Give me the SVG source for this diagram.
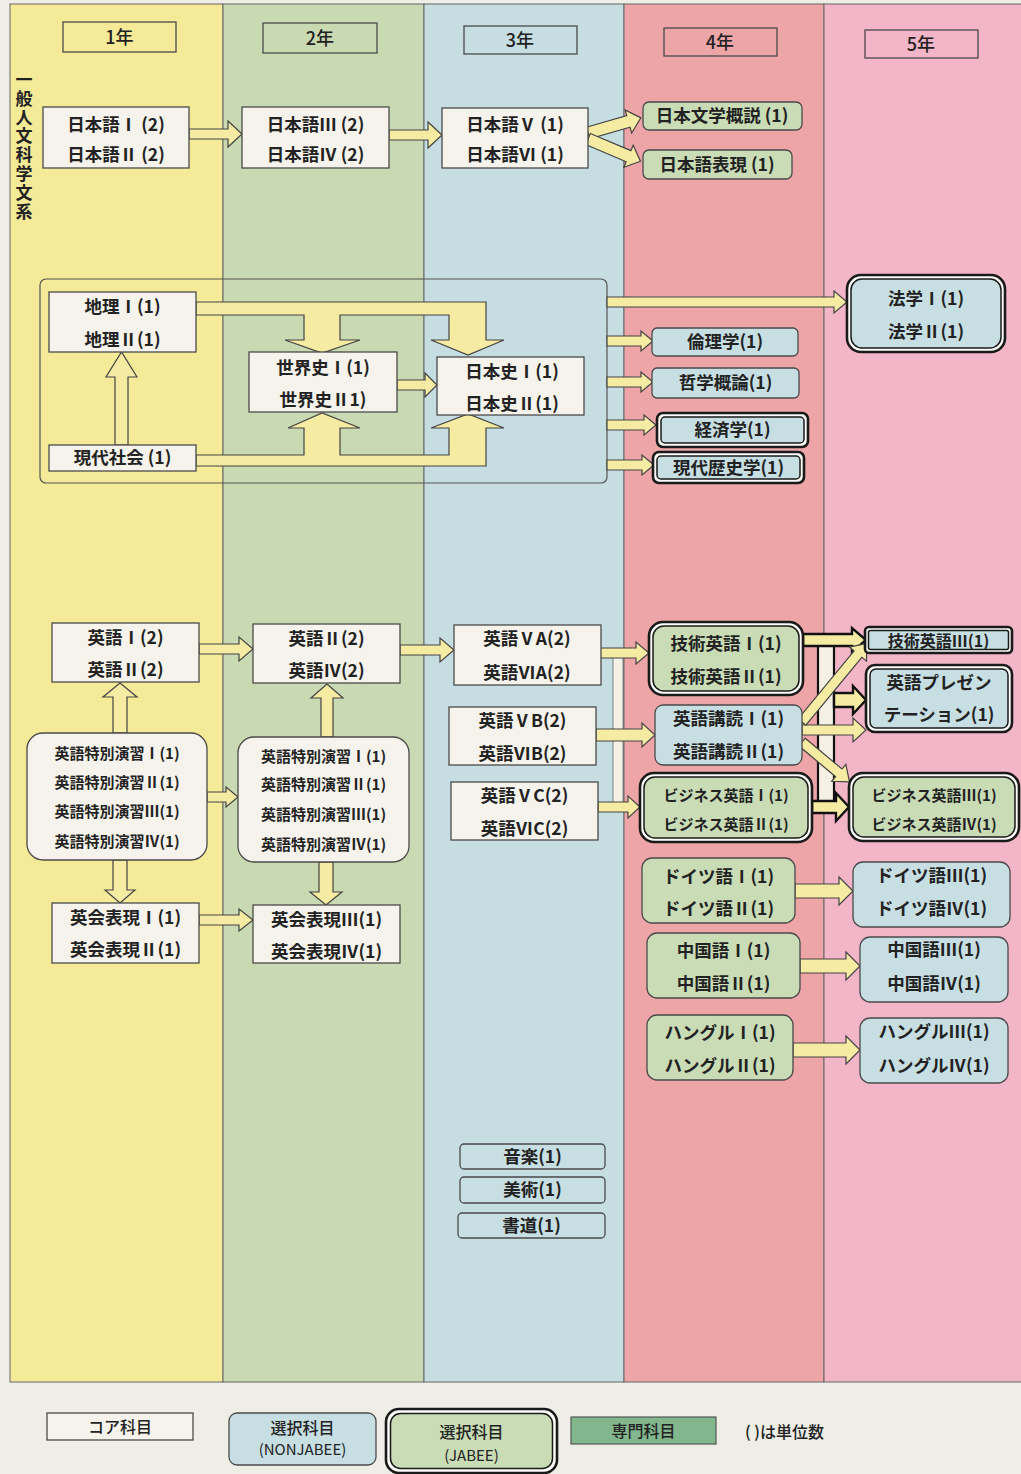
<svg xmlns="http://www.w3.org/2000/svg" width="1021" height="1474" viewBox="0 0 1021 1474">
<style>
text{font-family:"Noto Sans CJK JP","Noto Sans",sans-serif;font-weight:600;font-size:17.5px;fill:#222;text-anchor:middle}
.sm{font-size:15px}
.core{fill:#f5f3ec;stroke:#4a4a4a;stroke-width:1.3}
.sel{fill:#c7dee3;stroke:#4a4a4a;stroke-width:1.3}
.spec{fill:#c9dcb6;stroke:#4a4a4a;stroke-width:1.3}
.hdr{fill:none;stroke:#4a4a4a;stroke-width:1.3}
.dbo{fill:#fbfbf8;stroke:#1a1a1a;stroke-width:2.6}
.dbi{stroke:#1a1a1a;stroke-width:1.5}
.arr{fill:#f6eba3;stroke:#444;stroke-width:1.2;stroke-linejoin:miter}
.arrd{fill:#f6eba3;stroke:#111;stroke-width:2.4;stroke-linejoin:miter}
.col{stroke:#666;stroke-width:1}
</style>
<rect x="0" y="0" width="1021" height="1474" fill="#eeede6"/>
<g id="columns">
<rect class="col" x="10" y="4" width="213" height="1378" fill="#f4ea98"/>
<rect class="col" x="223" y="4" width="201" height="1378" fill="#c9d9b1"/>
<rect class="col" x="424" y="4" width="200" height="1378" fill="#c6dde1"/>
<rect class="col" x="624" y="4" width="200" height="1378" fill="#eea5a7"/>
<rect class="col" x="824" y="4" width="210" height="1378" fill="#f3b5c8"/>
</g>
<g id="headers">
<rect class="hdr" x="63" y="22" width="113" height="30"/><text x="119.5" y="44" style="font-size:18px;font-weight:500">1年</text>
<rect class="hdr" x="263" y="23" width="114" height="30"/><text x="320" y="45" style="font-size:18px;font-weight:500">2年</text>
<rect class="hdr" x="464" y="26" width="113" height="28"/><text x="520" y="47" style="font-size:18px;font-weight:500">3年</text>
<rect class="hdr" x="664" y="28" width="113" height="28"/><text x="720" y="49" style="font-size:18px;font-weight:500">4年</text>
<rect class="hdr" x="865" y="30" width="113" height="28"/><text x="921" y="51" style="font-size:18px;font-weight:500">5年</text>
</g>
<text id="category" x="24" y="71" style="font-size:17px;writing-mode:vertical-rl;text-anchor:start;letter-spacing:1.8px">一般人文科学文系</text>
<rect id="humanities-group" x="40" y="279" width="567" height="204" rx="6" fill="none" stroke="#555" stroke-width="1.2"/>

<g id="connectors">
<polygon class="arr" points="189,129 228,129 228,121 242,134 228,147 228,139 189,139"/>
<polygon class="arr" points="389,130 428,130 428,122 442,135 428,148 428,140 389,140"/>
<g transform="translate(588,133) rotate(-16)"><polygon class="arr" points="0,-6 42,-6 42,-12 55,0 42,12 42,6 0,6"/></g>
<g transform="translate(588,139) rotate(23)"><polygon class="arr" points="0,-6 44,-6 44,-12 57,0 44,12 44,6 0,6"/></g>
<polygon class="arr" points="196,302 486,302 486,340 504,340 468,355 431,340 449,340 449,315 340,315 340,340 360,340 322,353 285,340 304,340 304,315 196,315"/>
<polygon class="arr" points="196,455 304,455 304,428 288,428 322,413 360,428 340,428 340,455 449,455 449,428 431,428 468,414 504,428 486,428 486,466 196,466"/>
<polygon class="arr" points="115,445 115,377 106,377 121.5,352 137,377 128,377 128,445"/>
<polygon class="arr" points="397,380 425,380 425,373 437,385 425,397 425,390 397,390"/>
<polygon class="arr" points="607,297 834,297 834,291 847,302 834,313 834,307 607,307"/>
<polygon class="arr" points="607,336 641,336 641,331 653,341 641,351 641,346 607,346"/>
<polygon class="arr" points="607,377 641,377 641,372 653,382 641,392 641,387 607,387"/>
<polygon class="arr" points="607,420 644,420 644,415 656,425 644,435 644,430 607,430"/>
<polygon class="arr" points="607,460 642,460 642,455 654,465 642,475 642,470 607,470"/>
<polygon class="arr" points="199,644 239,644 239,637 253,649 239,661 239,654 199,654"/>
<polygon class="arr" points="400,645 440,645 440,638 454,650 440,662 440,655 400,655"/>
<polygon class="arr" points="113,733 113,697 103,697 120,683 137,697 127,697 127,733"/>
<polygon class="arr" points="207,792 226,792 226,787 238,797 226,807 226,802 207,802"/>
<polygon class="arr" points="113,860 113,890 105,890 120,903 135,890 127,890 127,860"/>
<polygon class="arr" points="199,915 239,915 239,909 253,920 239,931 239,925 199,925"/>
<polygon class="arr" points="321,737 321,698 311,698 327,684 343,698 333,698 333,737"/>
<polygon class="arr" points="319,862 319,892 310,892 326,905 342,892 333,892 333,862"/>
<rect x="613" y="653" width="10" height="154" fill="#f5f1e6" stroke="#666" stroke-width="0.8"/>
<polygon class="arr" points="600,648 636,648 636,642 649,653 636,664 636,658 600,658"/>
<polygon class="arr" points="596,729 642,729 642,723 655,735 642,747 642,741 596,741"/>
<polygon class="arr" points="598,802 628,802 628,796 640,807 628,818 628,812 598,812"/>
<rect x="818" y="640" width="16" height="168" fill="#f4f0e4" stroke="#111" stroke-width="2.2"/>
<polygon class="arrd" points="803,634 852,634 852,628 866,640 852,652 852,646 803,646"/>
<polygon class="arrd" points="834,693 853,693 853,686 866,700 853,714 853,707 834,707"/>
<polygon class="arrd" points="812,801 836,801 836,793 849,807 836,821 836,813 812,813"/>
<polygon class="arr" points="802,725 853,725 853,718 866,730 853,742 853,735 802,735"/>
<g transform="translate(802,722) rotate(-50.5)"><polygon class="arr" points="0,-5 88,-5 88,-11 102,0 88,11 88,5 0,5"/></g>
<g transform="translate(802,742) rotate(40)"><polygon class="arr" points="0,-5 48,-5 48,-11 62,0 48,11 48,5 0,5"/></g>
<polygon class="arr" points="795,884 839,884 839,877 853,891 839,905 839,898 795,898"/>
<polygon class="arr" points="800,959 846,959 846,952 860,966 846,980 846,973 800,973"/>
<polygon class="arr" points="793,1043 846,1043 846,1036 860,1050 846,1064 846,1057 793,1057"/>
</g>

<g id="n-nihongo12"><rect class="core" x="43" y="107" width="146" height="61"/><text x="116" y="131">日本語Ⅰ (2)</text><text x="116" y="161">日本語Ⅱ (2)</text></g>
<g id="n-nihongo34"><rect class="core" x="242" y="107" width="147" height="61"/><text x="315.5" y="131">日本語Ⅲ (2)</text><text x="315.5" y="161">日本語Ⅳ (2)</text></g>
<g id="n-nihongo56"><rect class="core" x="442" y="108" width="146" height="60"/><text x="515" y="131">日本語Ⅴ (1)</text><text x="515" y="161">日本語Ⅵ (1)</text></g>
<g id="n-bungaku"><rect class="spec" x="643" y="102" width="159" height="28" rx="6"/><text x="722" y="122">日本文学概説 (1)</text></g>
<g id="n-hyogen"><rect class="spec" x="643" y="150" width="149" height="29" rx="6"/><text x="717" y="171">日本語表現 (1)</text></g>

<g id="n-chiri"><rect class="core" x="49" y="292" width="147" height="60"/><text x="122.5" y="313">地理Ⅰ(1)</text><text x="122.5" y="346">地理Ⅱ(1)</text></g>
<g id="n-gendai"><rect class="core" x="49" y="445" width="147" height="26"/><text x="122.5" y="464">現代社会 (1)</text></g>
<g id="n-sekaishi"><rect class="core" x="249" y="352" width="148" height="60"/><text x="323" y="374">世界史Ⅰ(1)</text><text x="323" y="406">世界史Ⅱ1)</text></g>
<g id="n-nihonshi"><rect class="core" x="437" y="357" width="147" height="58"/><text x="512" y="378">日本史Ⅰ(1)</text><text x="512" y="410">日本史Ⅱ(1)</text></g>
<g id="n-hogaku"><rect class="dbo" x="847" y="275" width="158" height="77" rx="14"/><rect class="dbi" x="851" y="279" width="150" height="69" rx="11" fill="#c7dee3"/><text x="926" y="305">法学Ⅰ(1)</text><text x="926" y="338">法学Ⅱ(1)</text></g>
<g id="n-rinri"><rect class="sel" x="652" y="328" width="146" height="28" rx="5"/><text x="725" y="348">倫理学(1)</text></g>
<g id="n-tetsugaku"><rect class="sel" x="652" y="368" width="147" height="30" rx="5"/><text x="725.5" y="389">哲学概論(1)</text></g>
<g id="n-keizai"><rect class="dbo" x="657" y="413" width="151" height="34" rx="6"/><rect class="dbi" x="661" y="417" width="143" height="26" rx="4" fill="#c7dee3"/><text x="732.5" y="436">経済学(1)</text></g>
<g id="n-rekishi"><rect class="dbo" x="653" y="452" width="151" height="31" rx="6"/><rect class="dbi" x="657" y="456" width="143" height="23" rx="4" fill="#c7dee3"/><text x="728.5" y="474">現代歴史学(1)</text></g>

<g id="n-eigo12"><rect class="core" x="52" y="623" width="147" height="59"/><text x="125.5" y="644">英語Ⅰ(2)</text><text x="125.5" y="676">英語Ⅱ(2)</text></g>
<g id="n-eigo34"><rect class="core" x="253" y="624" width="147" height="59"/><text x="326.5" y="645">英語Ⅱ(2)</text><text x="326.5" y="677">英語Ⅳ(2)</text></g>
<g id="n-tokubetsu1"><rect class="core" x="27" y="733" width="180" height="127" rx="16"/><text class="sm" x="117" y="759">英語特別演習Ⅰ(1)</text><text class="sm" x="117" y="788">英語特別演習Ⅱ(1)</text><text class="sm" x="117" y="817">英語特別演習Ⅲ(1)</text><text class="sm" x="117" y="847">英語特別演習Ⅳ(1)</text></g>
<g id="n-tokubetsu2"><rect class="core" x="238" y="737" width="171" height="125" rx="16"/><text class="sm" x="323.5" y="762">英語特別演習Ⅰ(1)</text><text class="sm" x="323.5" y="790">英語特別演習Ⅱ(1)</text><text class="sm" x="323.5" y="820">英語特別演習Ⅲ(1)</text><text class="sm" x="323.5" y="850">英語特別演習Ⅳ(1)</text></g>
<g id="n-eikai12"><rect class="core" x="52" y="903" width="147" height="60"/><text x="125.5" y="924">英会表現Ⅰ(1)</text><text x="125.5" y="956">英会表現Ⅱ(1)</text></g>
<g id="n-eikai34"><rect class="core" x="253" y="905" width="147" height="58"/><text x="326.5" y="926">英会表現Ⅲ(1)</text><text x="326.5" y="958">英会表現Ⅳ(1)</text></g>
<g id="n-eigoVA"><rect class="core" x="454" y="625" width="147" height="60"/><text x="527" y="645">英語ⅤA(2)</text><text x="527" y="679">英語ⅥA(2)</text></g>
<g id="n-eigoVB"><rect class="core" x="449" y="707" width="147" height="58"/><text x="522.5" y="727">英語ⅤB(2)</text><text x="522.5" y="760">英語ⅥB(2)</text></g>
<g id="n-eigoVC"><rect class="core" x="451" y="782" width="147" height="58"/><text x="524.5" y="802">英語ⅤC(2)</text><text x="524.5" y="835">英語ⅥC(2)</text></g>
<g id="n-gijutsu12"><rect class="dbo" x="649" y="622" width="154" height="73" rx="14"/><rect class="dbi" x="653" y="626" width="146" height="65" rx="11" fill="#c9dcb6"/><text x="726" y="650">技術英語Ⅰ(1)</text><text x="726" y="683">技術英語Ⅱ(1)</text></g>
<g id="n-kodoku"><rect class="sel" x="655" y="705" width="147" height="60" rx="8"/><text x="728.5" y="725">英語講読Ⅰ(1)</text><text x="728.5" y="758">英語講読Ⅱ(1)</text></g>
<g id="n-business12"><rect class="dbo" x="640" y="773" width="172" height="69" rx="14"/><rect class="dbi" x="644" y="777" width="164" height="61" rx="11" fill="#c9dcb6"/><text class="sm" x="726" y="801">ビジネス英語Ⅰ(1)</text><text class="sm" x="726" y="830">ビジネス英語Ⅱ(1)</text></g>
<g id="n-gijutsu3"><rect class="dbo" x="865" y="627" width="147" height="26" rx="4"/><rect class="dbi" x="868.5" y="630.5" width="140" height="19" rx="2" fill="#c7dee3"/><text x="938.5" y="647" style="font-size:16px">技術英語Ⅲ(1)</text></g>
<g id="n-presen"><rect class="dbo" x="866" y="665" width="146" height="67" rx="9"/><rect class="dbi" x="870" y="669" width="138" height="59" rx="6" fill="#c7dee3"/><text x="939" y="689">英語プレゼン</text><text x="939" y="721">テーション(1)</text></g>
<g id="n-business34"><rect class="dbo" x="849" y="773" width="170" height="68" rx="14"/><rect class="dbi" x="853" y="777" width="162" height="60" rx="11" fill="#c9dcb6"/><text class="sm" x="934" y="801">ビジネス英語Ⅲ(1)</text><text class="sm" x="934" y="830">ビジネス英語Ⅳ(1)</text></g>
<g id="n-doitsu12"><rect class="spec" x="642" y="858" width="153" height="65" rx="10"/><text x="718.5" y="883">ドイツ語Ⅰ(1)</text><text x="718.5" y="915">ドイツ語Ⅱ(1)</text></g>
<g id="n-doitsu34"><rect class="sel" x="853" y="862" width="157" height="65" rx="10"/><text x="931.5" y="882">ドイツ語Ⅲ(1)</text><text x="931.5" y="915">ドイツ語Ⅳ(1)</text></g>
<g id="n-chugoku12"><rect class="spec" x="647" y="933" width="153" height="65" rx="10"/><text x="723.5" y="957">中国語Ⅰ(1)</text><text x="723.5" y="990">中国語Ⅱ(1)</text></g>
<g id="n-chugoku34"><rect class="sel" x="860" y="937" width="148" height="65" rx="10"/><text x="934" y="956">中国語Ⅲ(1)</text><text x="934" y="990">中国語Ⅳ(1)</text></g>
<g id="n-hangul12"><rect class="spec" x="647" y="1015" width="146" height="65" rx="10"/><text x="720" y="1039">ハングルⅠ(1)</text><text x="720" y="1072">ハングルⅡ(1)</text></g>
<g id="n-hangul34"><rect class="sel" x="860" y="1018" width="148" height="65" rx="10"/><text x="934" y="1038">ハングルⅢ(1)</text><text x="934" y="1072">ハングルⅣ(1)</text></g>
<g id="n-ongaku"><rect class="sel" x="460" y="1144" width="145" height="25" rx="4"/><text x="532.5" y="1163">音楽(1)</text></g>
<g id="n-bijutsu"><rect class="sel" x="460" y="1177" width="145" height="26" rx="4"/><text x="532.5" y="1196">美術(1)</text></g>
<g id="n-shodo"><rect class="sel" x="458" y="1213" width="147" height="25" rx="4"/><text x="531.5" y="1232">書道(1)</text></g>

<g id="legend">
<g id="lg-core"><rect class="core" x="47" y="1413" width="146" height="27"/><text x="120" y="1433" style="font-size:16px;font-weight:500">コア科目</text></g>
<g id="lg-nonjabee"><rect class="sel" x="229" y="1413" width="147" height="52" rx="8"/><text x="302.5" y="1434" style="font-size:16px;font-weight:500">選択科目</text><text x="302.5" y="1455" style="font-size:15px;font-weight:400">(NONJABEE)</text></g>
<g id="lg-jabee"><rect class="dbo" x="386" y="1409" width="171" height="64" rx="13"/><rect class="dbi" x="390.5" y="1413.5" width="162" height="55" rx="10" fill="#c9dcb6"/><text x="471.5" y="1438" style="font-size:16px;font-weight:500">選択科目</text><text x="471.5" y="1461" style="font-size:15px;font-weight:400">(JABEE)</text></g>
<g id="lg-senmon"><rect x="571" y="1417" width="145" height="27" fill="#82b68d" stroke="#555" stroke-width="1.2"/><text x="643.5" y="1437" style="font-size:16px;font-weight:500">専門科目</text></g>
<text x="745" y="1438" style="font-size:16px;font-weight:500;text-anchor:start">( )は単位数</text>
</g>
</svg>
